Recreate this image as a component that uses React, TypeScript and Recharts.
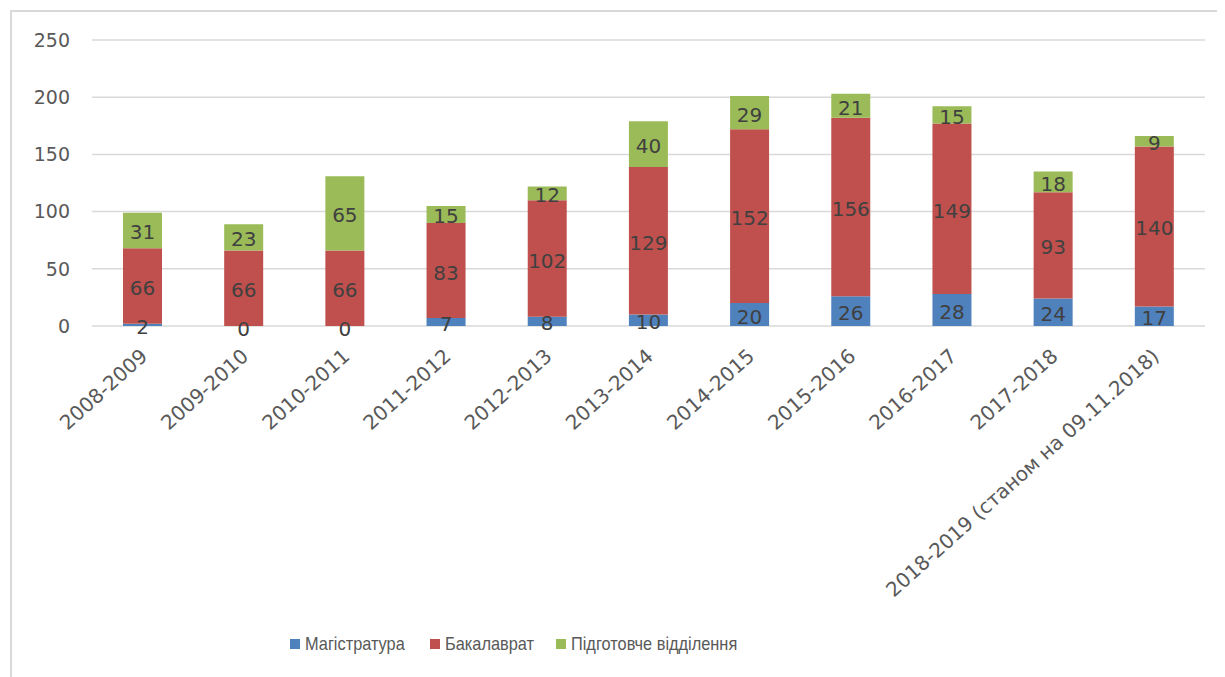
import { BarChart, Bar, XAxis, YAxis, CartesianGrid, Legend, LabelList } from "recharts";

const years = [
  "2008-2009",
  "2009-2010",
  "2010-2011",
  "2011-2012",
  "2012-2013",
  "2013-2014",
  "2014-2015",
  "2015-2016",
  "2016-2017",
  "2017-2018",
  "2018-2019 (станом на 09.11.2018)",
];
const masters = [2, 0, 0, 7, 8, 10, 20, 26, 28, 24, 17];
const bachelors = [66, 66, 66, 83, 102, 129, 152, 156, 149, 93, 140];
const prep = [31, 23, 65, 15, 12, 40, 29, 21, 15, 18, 9];
const yTicks = [0, 50, 100, 150, 200, 250];

const series = [
  { key: "masters", name: "Магістратура", color: "#4F81BD", width: 140 },
  { key: "bachelors", name: "Бакалаврат", color: "#C0504D", width: 126 },
  { key: "prep", name: "Підготовче відділення", color: "#9BBB59", width: 220 },
];

const data = years.map((year, i) => ({
  year,
  masters: masters[i],
  bachelors: bachelors[i],
  prep: prep[i],
}));

const FONT = "'DejaVu Sans', sans-serif";
const TEXT = "#595959";
const LABEL = "#404040";

function YearTick({ x, y, payload }: any) {
  return (
    <g transform={`translate(${x + 6},${y + 32})`}>
      <text textAnchor="end" transform="rotate(-42)" fill={TEXT} fontSize={20} fontFamily={FONT}>
        {payload.value}
      </text>
    </g>
  );
}

function SegmentLabel(props: any) {
  const { x, y, width, height, value } = props;
  return (
    <text
      x={x + width / 2}
      y={y + height / 2 + 2}
      textAnchor="middle"
      dominantBaseline="central"
      fill={LABEL}
      fontSize={20}
      fontFamily={FONT}
    >
      {value}
    </text>
  );
}

// bachelors label, plus the "0" for masters when that segment has no height
function BachelorLabel(props: any) {
  const { x, y, width, height, index } = props;
  return (
    <g>
      <SegmentLabel {...props} />
      {masters[index] === 0 && (
        <text
          x={x + width / 2}
          y={y + height + 3}
          textAnchor="middle"
          dominantBaseline="central"
          fill={LABEL}
          fontSize={20}
          fontFamily={FONT}
        >
          0
        </text>
      )}
    </g>
  );
}

function LegendBox() {
  return (
    <div style={{ display: "flex", height: 20, alignItems: "center", fontFamily: "'Liberation Sans', sans-serif", fontSize: 19, color: TEXT }}>
      {series.map((s) => (
        <div key={s.key} style={{ display: "flex", alignItems: "center", width: s.width }}>
          <span style={{ width: 10, height: 10, background: s.color, marginRight: 5, display: "inline-block", flex: "none" }} />
          <span style={{ whiteSpace: "nowrap", display: "inline-block", transform: "scaleX(0.86)", transformOrigin: "left center" }}>
            {s.name}
          </span>
        </div>
      ))}
    </div>
  );
}

export default function App() {
  return (
    <div style={{ position: "relative", width: 1217, height: 669, background: "#fff" }}>
      <div
        style={{
          position: "absolute",
          left: 2,
          top: 2,
          right: 0,
          bottom: 0,
          borderLeft: "2px solid #d9d9d9",
          borderTop: "2px solid #d9d9d9",
        }}
      />
      <BarChart
        width={1217}
        height={669}
        data={data}
        margin={{ top: 32, right: 20, left: 0, bottom: 23 }}
        barSize={39}
        style={{ position: "absolute", left: 0, top: 0 }}
      >
        <CartesianGrid vertical={false} stroke="#d9d9d9" strokeWidth={1.5} />
        <XAxis
          dataKey="year"
          interval={0}
          axisLine={false}
          tickLine={false}
          tickSize={0}
          tickMargin={0}
          height={308}
          tick={<YearTick />}
        />
        <YAxis
          domain={[0, 250]}
          ticks={yTicks}
          width={84}
          axisLine={false}
          tickLine={false}
          tickSize={0}
          tickMargin={22}
          tick={{ fill: TEXT, fontSize: 19, fontFamily: FONT }}
        />
        <Legend
          verticalAlign="bottom"
          align="left"
          content={<LegendBox />}
          wrapperStyle={{ left: 282, width: 560, bottom: 23 }}
        />
        <Bar dataKey="masters" name="Магістратура" stackId="a" fill="#4F81BD" isAnimationActive={false}>
          <LabelList dataKey="masters" content={<SegmentLabel />} />
        </Bar>
        <Bar dataKey="bachelors" name="Бакалаврат" stackId="a" fill="#C0504D" isAnimationActive={false}>
          <LabelList dataKey="bachelors" content={<BachelorLabel />} />
        </Bar>
        <Bar dataKey="prep" name="Підготовче відділення" stackId="a" fill="#9BBB59" isAnimationActive={false}>
          <LabelList dataKey="prep" content={<SegmentLabel />} />
        </Bar>
      </BarChart>
    </div>
  );
}
